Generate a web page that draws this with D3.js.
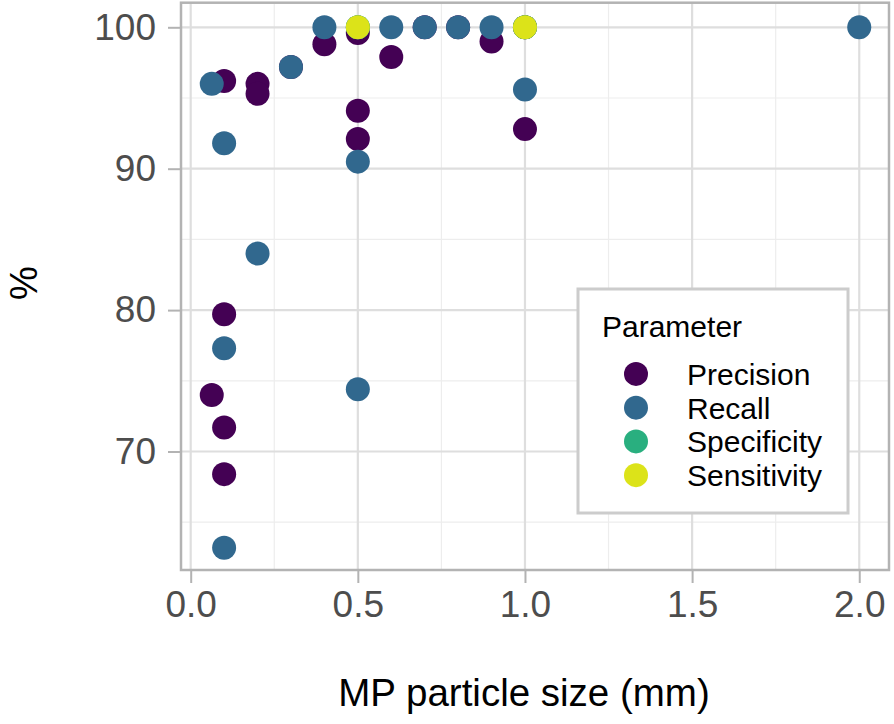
<!DOCTYPE html>
<html>
<head>
<meta charset="utf-8">
<script src="https://cdn.jsdelivr.net/npm/d3@7"></script>
<style>
  html, body { margin: 0; padding: 0; background: #fff; }
  svg { display: block; font-family: "Liberation Sans", Arial, sans-serif; }
</style>
</head>
<body>
<svg id="chart" width="894" height="724"></svg>
<script>
// ---- data ----
const seriesNames = ["Precision", "Recall", "Specificity", "Sensitivity"];
const seriesColors = ["#440154", "#31688E", "#29AF7F", "#DCE319"];

const precisionX = [0.063, 0.1, 0.1, 0.1, 0.1, 0.2, 0.2, 0.3, 0.4, 0.5, 0.5, 0.5, 0.6, 0.7, 0.8, 0.9, 1.0, 1.0];
const precisionY = [74.0, 96.2, 79.7, 71.7, 68.4, 96.0, 95.3, 97.2, 98.8, 99.6, 94.1, 92.1, 97.9, 100, 100, 99.0, 92.8, 100];

const recallX = [0.063, 0.1, 0.1, 0.1, 0.2, 0.3, 0.4, 0.5, 0.5, 0.5, 0.6, 0.7, 0.8, 0.9, 1.0, 1.0, 2.0];
const recallY = [96.0, 91.8, 77.3, 63.2, 84.0, 97.2, 100, 100, 90.5, 74.4, 100, 100, 100, 100, 95.6, 100, 100];

const specificityX = [0.5, 1.0];
const specificityY = [100, 100];

const sensitivityX = [0.5, 1.0];
const sensitivityY = [100, 100];

const xTicks = [0.0, 0.5, 1.0, 1.5, 2.0];
const xMinorTicks = [0.25, 0.75, 1.25, 1.75];
const yTicks = [70, 80, 90, 100];
const yMinorTicks = [65, 75, 85, 95];

const xTitle = "MP particle size (mm)";
const yTitle = "%";
const legendTitle = "Parameter";

// ---- layout ----
const svg = d3.select("#chart");
const panel = { left: 181, right: 889, top: 2.7, bottom: 570 };

const x = d3.scaleLinear().domain([-0.029, 2.089]).range([panel.left, panel.right]);
const y = d3.scaleLinear().domain([61.62, 101.74]).range([panel.bottom, panel.top]);

const gridMajor = "#DEDEDE";
const gridMinor = "#EDEDED";
const borderCol = "#B3B3B3";
const textCol = "#4D4D4D";
const fontFam = "Liberation Sans, Arial, sans-serif";

// grid
const grid = svg.append("g");
grid.selectAll("line.xminor").data(xMinorTicks).join("line")
  .attr("x1", d => x(d)).attr("x2", d => x(d))
  .attr("y1", panel.top).attr("y2", panel.bottom)
  .attr("stroke", gridMinor).attr("stroke-width", 1.2);
grid.selectAll("line.yminor").data(yMinorTicks).join("line")
  .attr("y1", d => y(d)).attr("y2", d => y(d))
  .attr("x1", panel.left).attr("x2", panel.right)
  .attr("stroke", gridMinor).attr("stroke-width", 1.2);
grid.selectAll("line.xmajor").data(xTicks).join("line")
  .attr("x1", d => x(d)).attr("x2", d => x(d))
  .attr("y1", panel.top).attr("y2", panel.bottom)
  .attr("stroke", gridMajor).attr("stroke-width", 2.2);
grid.selectAll("line.ymajor").data(yTicks).join("line")
  .attr("y1", d => y(d)).attr("y2", d => y(d))
  .attr("x1", panel.left).attr("x2", panel.right)
  .attr("stroke", gridMajor).attr("stroke-width", 2.2);

// points
const allSeries = [
  { name: seriesNames[0], xs: precisionX, ys: precisionY },
  { name: seriesNames[1], xs: recallX, ys: recallY },
  { name: seriesNames[2], xs: specificityX, ys: specificityY },
  { name: seriesNames[3], xs: sensitivityX, ys: sensitivityY }
];
const color = d3.scaleOrdinal().domain(seriesNames).range(seriesColors);

allSeries.forEach(s => {
  const pts = s.xs.map((v, i) => ({ x: v, y: s.ys[i] }));
  svg.append("g").selectAll("circle").data(pts).join("circle")
    .attr("cx", d => x(d.x)).attr("cy", d => y(d.y)).attr("r", 12)
    .attr("fill", color(s.name));
});

// panel border
svg.append("rect")
  .attr("x", panel.left).attr("y", panel.top)
  .attr("width", panel.right - panel.left).attr("height", panel.bottom - panel.top)
  .attr("fill", "none").attr("stroke", borderCol).attr("stroke-width", 2.5);

// axes
const xAxis = d3.axisBottom(x).tickValues(xTicks).tickFormat(d3.format(".1f")).tickSize(12).tickPadding(8);
const gx = svg.append("g").attr("transform", `translate(0,${panel.bottom + 1})`).call(xAxis);
gx.select(".domain").remove();
gx.selectAll(".tick line").attr("stroke", borderCol).attr("stroke-width", 2);
gx.selectAll(".tick text").attr("fill", textCol).attr("font-size", 37)
  .attr("font-family", fontFam);

const yAxis = d3.axisLeft(y).tickValues(yTicks).tickFormat(d3.format("d")).tickSize(12).tickPadding(12);
const gy = svg.append("g").attr("transform", `translate(${panel.left - 1},0)`).call(yAxis);
gy.select(".domain").remove();
gy.selectAll(".tick line").attr("stroke", borderCol).attr("stroke-width", 2);
gy.selectAll(".tick text").attr("fill", textCol).attr("font-size", 37)
  .attr("font-family", fontFam);

// axis titles
svg.append("text").attr("x", 524).attr("y", 706)
  .attr("text-anchor", "middle").attr("font-size", 38.5).attr("fill", "#000")
  .text(xTitle);
svg.append("text").attr("transform", `translate(37,283) rotate(-90)`)
  .attr("text-anchor", "middle").attr("font-size", 38).attr("fill", "#000")
  .text(yTitle);

// legend
const lg = svg.append("g");
lg.append("rect").attr("x", 578).attr("y", 289).attr("width", 270).attr("height", 224)
  .attr("fill", "#fff").attr("stroke", "#CCCCCC").attr("stroke-width", 3);
lg.append("text").attr("x", 602).attr("y", 337).attr("font-size", 30).attr("fill", "#000")
  .text(legendTitle);
const ly = d3.scaleBand().domain(seriesNames).range([357, 492]);
seriesNames.forEach(n => {
  const cy = ly(n) + ly.bandwidth() / 2;
  lg.append("circle").attr("cx", 636).attr("cy", cy).attr("r", 12).attr("fill", color(n));
  lg.append("text").attr("x", 687).attr("y", cy + 11).attr("font-size", 30).attr("fill", "#000").text(n);
});
</script>
</body>
</html>
